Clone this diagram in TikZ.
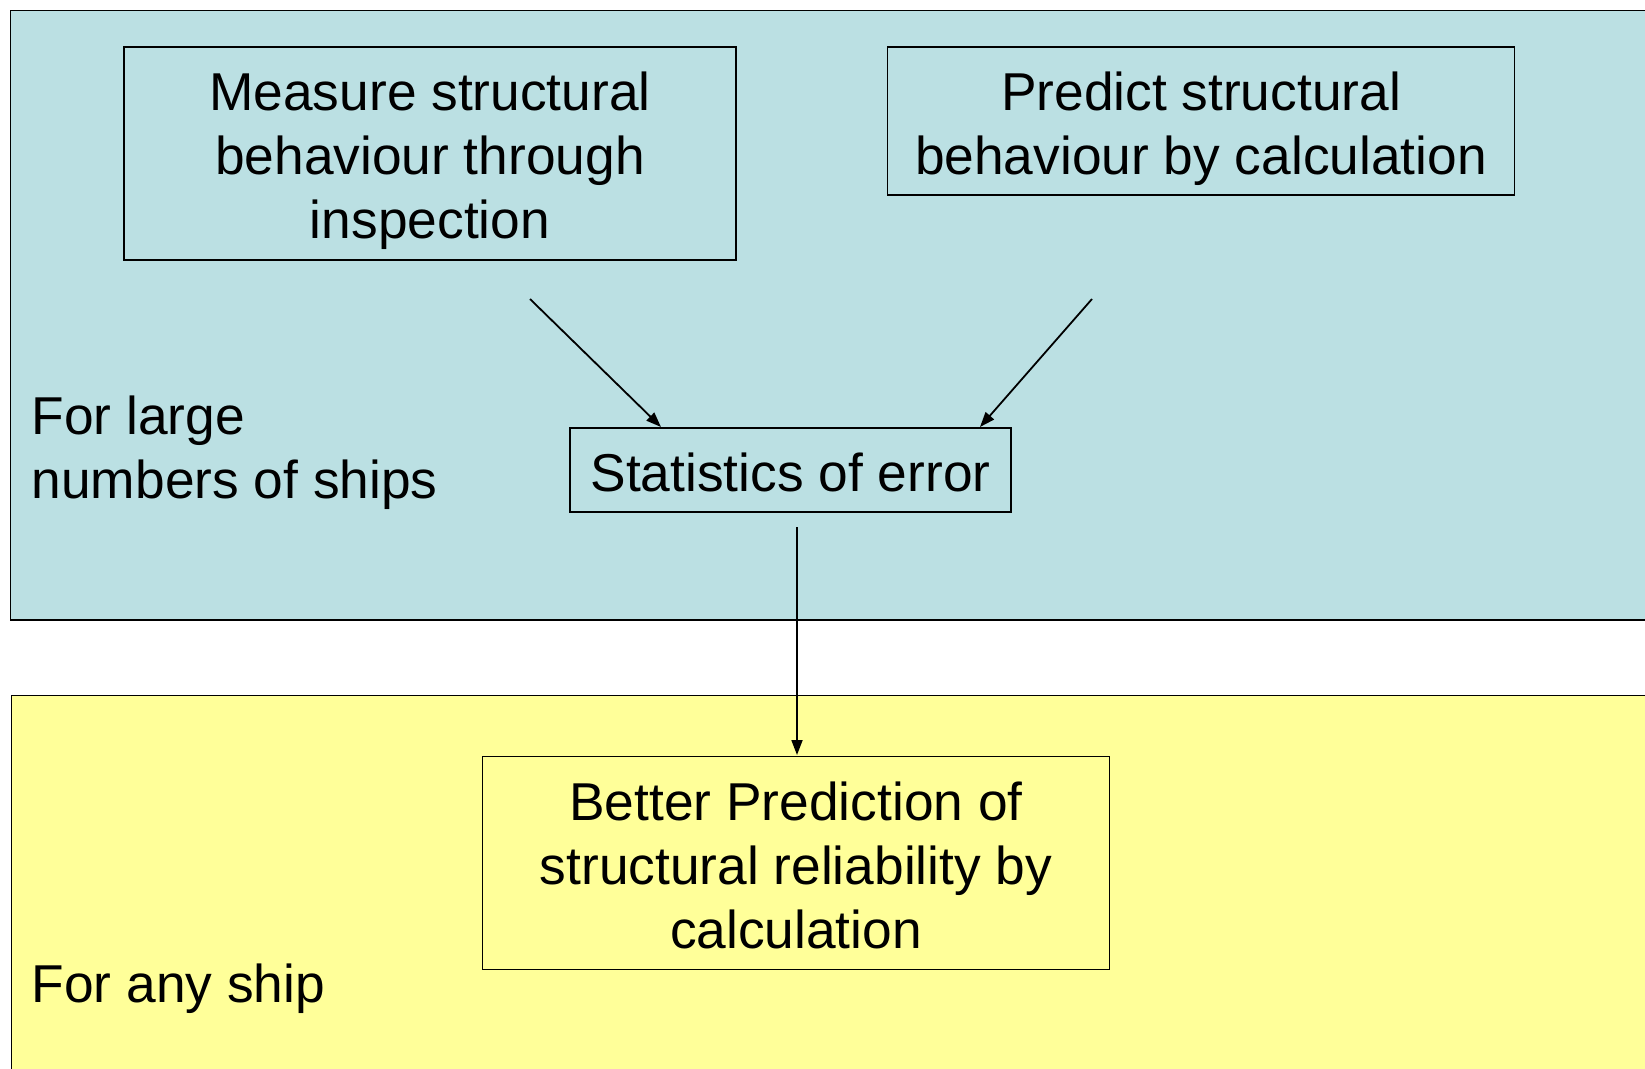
\documentclass[tikz,border=0pt]{standalone}
\usepackage{fontspec}
\setmainfont{Liberation Sans}
\usetikzlibrary{arrows.meta}
\definecolor{panelblue}{RGB}{187,224,227}
\definecolor{panelyellow}{RGB}{255,255,153}
\newcommand{\topstrut}{\rule{0pt}{\dimexpr0.905em+6pt\relax}}
\newcommand{\botstrut}{\rule[-0.212em]{0pt}{0.212em}}
\begin{document}
\begin{tikzpicture}[x=1pt,y=-1pt,
  panel/.style={draw=black,line width=1.5pt},
  box/.style={draw=black,line width=1.5pt,rectangle,inner sep=0pt,align=center,
    font=\fontsize{53.3}{64}\selectfont},
  lbl/.style={inner sep=0pt,align=left,anchor=base west,font=\fontsize{53.3}{64}\selectfont},
  conn/.style={line width=1.8pt,-{Triangle[length=15pt,width=11pt]}}]
\useasboundingbox (0,0) rectangle (1645,1068);
\fill[white] (0,0) rectangle (1645,1068);
% panels
\filldraw[panel,fill=panelblue] (10.5,10.5) rectangle (1700,620);
\filldraw[panel,fill=panelyellow] (11.5,695.5) rectangle (1700,1120);
% boxes
\node[box,minimum width=612pt,minimum height=213pt] (meas) at (430,153.5)
  {\topstrut Measure structural\\behaviour through\\inspection\botstrut};
\node[box,minimum width=627pt,minimum height=148pt] (pred) at (1201,121)
  {\topstrut Predict structural\\behaviour by calculation\botstrut};
\node[box,minimum width=441pt,minimum height=84pt] (stat) at (790.5,470)
  {\topstrut Statistics of error\botstrut};
\node[box,minimum width=627pt,minimum height=213pt] (better) at (796,863)
  {\topstrut Better Prediction of\\structural reliability by\\calculation\botstrut};
% labels
\node[lbl] (large) at (31.5,498) {For large\\numbers of ships};
\node[lbl] (any) at (31.5,1002) {For any ship};
% connector endpoints
\coordinate (s1) at (530,299);
\coordinate (s2) at (1092,299);
\coordinate (s3) at (797,527);
\coordinate (e1) at (661,427);
\coordinate (e2) at (980,427);
\coordinate (e3) at (797,755);
\draw[conn] (s1) -- (e1);
\draw[conn] (s2) -- (e2);
\draw[conn] (s3) -- (e3);
\end{tikzpicture}
\end{document}
